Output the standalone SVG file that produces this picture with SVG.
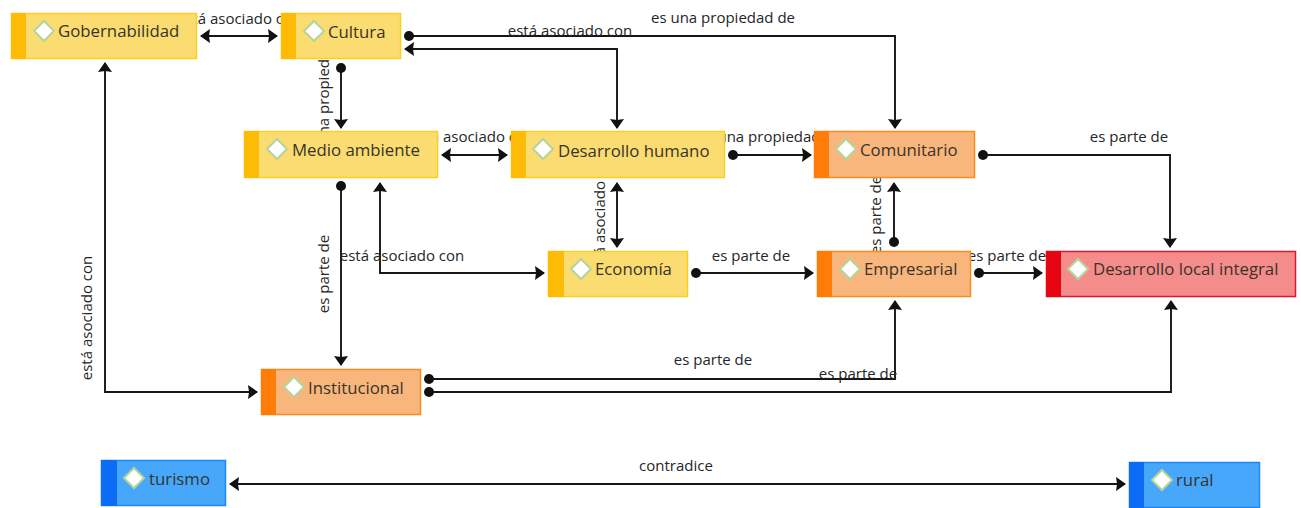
<svg xmlns="http://www.w3.org/2000/svg" width="1301" height="508" viewBox="0 0 1301 508">
<style>
.c{fill:none;stroke:#161616;stroke-width:1.9}
.l{font:15px "Open Sans","Liberation Sans",sans-serif;fill:#262626;text-anchor:middle}
.t{font:16.800px "Open Sans","Liberation Sans",sans-serif;fill:#38332a}
.d{fill:#fff;stroke:#b5d49a;stroke-width:2}
.b{stroke-width:1.5}
.y{fill:#fbdc70;stroke:#fccf1c}.ya{fill:#fdbb06}
.o{fill:#f9b67c;stroke:#ff8a1c}.oa{fill:#ff7c08}
.r{fill:#f58c8c;stroke:#e5142a}.ra{fill:#e60510}
.u{fill:#47a8fb;stroke:#1f86fa}.ua{fill:#0d6cf5}
</style>
<defs>
<marker id="a" markerUnits="userSpaceOnUse" viewBox="0 0 10 14" markerWidth="10" markerHeight="14" refX="9" refY="7" orient="auto-start-reverse"><path d="M0 0L10 7L0 14L1 7Z" fill="#111"/></marker>
<marker id="o" markerUnits="userSpaceOnUse" viewBox="0 0 10 10" markerWidth="10" markerHeight="10" refX="5" refY="5" orient="auto"><circle cx="5" cy="5" r="5" fill="#111"/></marker>
</defs>
<rect width="1301" height="508" fill="#fff"/>
<g id="connectors">
<path class="c" d="M201 36H277" marker-start="url(#a)" marker-end="url(#a)"/>
<path class="c" d="M409 36H895V128" marker-start="url(#o)" marker-end="url(#a)"/>
<path class="c" d="M405 49H617V128" marker-start="url(#a)" marker-end="url(#a)"/>
<path class="c" d="M341 68V128" marker-start="url(#o)" marker-end="url(#a)"/>
<path class="c" d="M442 155H507" marker-start="url(#a)" marker-end="url(#a)"/>
<path class="c" d="M733 155H811" marker-start="url(#o)" marker-end="url(#a)"/>
<path class="c" d="M983 155H1170V247" marker-start="url(#o)" marker-end="url(#a)"/>
<path class="c" d="M894 242V183" marker-start="url(#o)" marker-end="url(#a)"/>
<path class="c" d="M979 273H1042" marker-start="url(#o)" marker-end="url(#a)"/>
<path class="c" d="M696 273H813" marker-start="url(#o)" marker-end="url(#a)"/>
<path class="c" d="M617 183V247" marker-start="url(#a)" marker-end="url(#a)"/>
<path class="c" d="M341 186V365" marker-start="url(#o)" marker-end="url(#a)"/>
<path class="c" d="M380 183V273H544" marker-start="url(#a)" marker-end="url(#a)"/>
<path class="c" d="M105 63V392H257" marker-start="url(#a)" marker-end="url(#a)"/>
<path class="c" d="M429 379H895V301" marker-start="url(#o)" marker-end="url(#a)"/>
<path class="c" d="M429 392H1171V301" marker-start="url(#o)" marker-end="url(#a)"/>
<path class="c" d="M230 484H1125" marker-start="url(#a)" marker-end="url(#a)"/>
<text class="l" x="239" y="24">está asociado con</text>
<text class="l" x="723" y="23">es una propiedad de</text>
<text class="l" x="570" y="36">está asociado con</text>
<text class="l" transform="translate(329 92) rotate(-90)">es una propiedad de</text>
<text class="l" x="472" y="142">está asociado con</text>
<text class="l" x="770" y="142">es una propiedad de</text>
<text class="l" x="1129" y="142">es parte de</text>
<text class="l" transform="translate(881 215) rotate(-90)">es parte de</text>
<text class="l" x="1007" y="261">es parte de</text>
<text class="l" x="751" y="261">es parte de</text>
<text class="l" transform="translate(605 214) rotate(-90)">está asociado con</text>
<text class="l" transform="translate(329 274) rotate(-90)">es parte de</text>
<text class="l" x="402" y="261">está asociado con</text>
<text class="l" transform="translate(92 318) rotate(-90)">está asociado con</text>
<text class="l" x="713" y="365">es parte de</text>
<text class="l" x="858" y="379">es parte de</text>
<text class="l" x="676" y="471">contradice</text>
</g>
<g id="gobernabilidad"><rect class="y b" x="11.500" y="13.500" width="185" height="45"/><rect class="ya" x="11" y="13" width="15" height="46"/><path class="d" d="M44 21L54 31L44 41L34 31Z"/><text class="t" x="58" y="37">Gobernabilidad</text></g>
<g id="cultura"><rect class="y b" x="281.500" y="13.500" width="119" height="45"/><rect class="ya" x="281" y="13" width="15" height="46"/><path class="d" d="M314 21L324 31L314 41L304 31Z"/><text class="t" x="328" y="38">Cultura</text></g>
<g id="medio-ambiente"><rect class="y b" x="244.500" y="131.500" width="193" height="46"/><rect class="ya" x="244" y="131" width="15" height="47"/><path class="d" d="M277 139L287 149L277 159L267 149Z"/><text class="t" x="292" y="156">Medio ambiente</text></g>
<g id="desarrollo-humano"><rect class="y b" x="511.500" y="131.500" width="213" height="46"/><rect class="ya" x="511" y="131" width="15" height="47"/><path class="d" d="M543 139L553 149L543 159L533 149Z"/><text class="t" x="558" y="157">Desarrollo humano</text></g>
<g id="comunitario"><rect class="o b" x="814.500" y="131.500" width="160" height="46"/><rect class="oa" x="814" y="131" width="15" height="47"/><path class="d" d="M846 139L856 149L846 159L836 149Z"/><text class="t" x="860" y="156">Comunitario</text></g>
<g id="economia"><rect class="y b" x="548.500" y="251.500" width="139" height="45"/><rect class="ya" x="548" y="251" width="16" height="46"/><path class="d" d="M581 259L591 269L581 279L571 269Z"/><text class="t" x="595" y="275">Economía</text></g>
<g id="empresarial"><rect class="o b" x="817.500" y="251.500" width="153" height="45"/><rect class="oa" x="817" y="251" width="15" height="46"/><path class="d" d="M850 259L860 269L850 279L840 269Z"/><text class="t" x="864" y="275">Empresarial</text></g>
<g id="desarrollo-local"><rect class="r b" x="1046.500" y="251.500" width="249" height="45"/><rect class="ra" x="1046" y="251" width="15" height="46"/><path class="d" d="M1078 259L1088 269L1078 279L1068 269Z"/><text class="t" x="1093" y="275">Desarrollo local integral</text></g>
<g id="institucional"><rect class="o b" x="261.500" y="369.500" width="159" height="45"/><rect class="oa" x="261" y="369" width="15" height="46"/><path class="d" d="M294 377L304 387L294 397L284 387Z"/><text class="t" x="308" y="394">Institucional</text></g>
<g id="turismo"><rect class="u b" x="101.500" y="460.500" width="124" height="45"/><rect class="ua" x="101" y="460" width="16" height="46"/><path class="d" d="M134 468L144 478L134 488L124 478Z"/><text class="t" x="149" y="485">turismo</text></g>
<g id="rural"><rect class="u b" x="1129.500" y="462.500" width="130" height="45"/><rect class="ua" x="1129" y="462" width="15" height="46"/><path class="d" d="M1162 470L1172 480L1162 490L1152 480Z"/><text class="t" x="1176" y="486">rural</text></g>
</svg>
